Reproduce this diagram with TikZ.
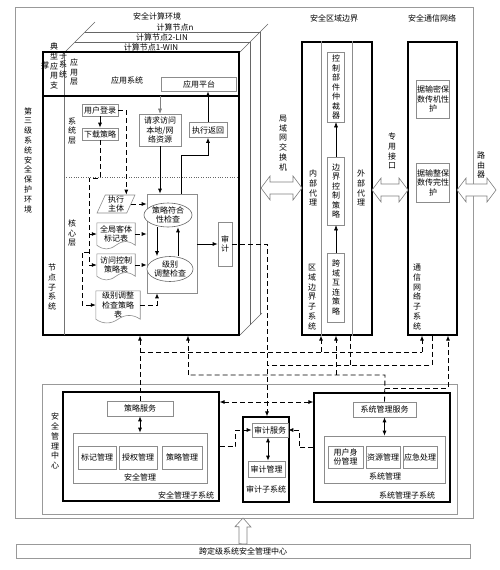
\documentclass[tikz,border=0pt]{standalone}
\usepackage{fontspec}
\setmainfont{Noto Sans CJK SC}
\usetikzlibrary{arrows.meta,positioning,shapes.geometric}

% hollow two-headed link: x1, x2, y
\newcommand{\hollowlink}[3]{%
  \draw[hollowline] (#1,#3) -- ({#1+9},{#3-12}) -- ({#1+9},{#3-6}) -- ({#2-9},{#3-6})
    -- ({#2-9},{#3-12}) -- (#2,#3) -- ({#2-9},{#3+12}) -- ({#2-9},{#3+6})
    -- ({#1+9},{#3+6}) -- ({#1+9},{#3+12}) -- cycle;}

\begin{document}
\begin{tikzpicture}[x=1pt, y=-1pt,
  every node/.style={font=\fontsize{8}{9.5}\selectfont, inner sep=0.5pt},
  vlab/.style={align=center, font=\fontsize{8}{9.8}\selectfont},
  gbox/.style={draw=black!45, line width=0.6pt, align=center, inner sep=0.5pt},
  tbox/.style={draw=black, line width=1.2pt},
  frame/.style={draw=black!40, line width=0.6pt},
  dsh/.style={line width=0.9pt, dash pattern=on 5pt off 3pt},
  arr/.style={-{Latex[length=5pt,width=4pt]}, line width=0.8pt},
  darr/.style={{Latex[length=5pt,width=4pt]}-{Latex[length=5pt,width=4pt]}, line width=0.8pt},
  hollowline/.style={draw=black!50, line width=0.6pt, fill=white},
  docbox/.style={align=center, inner sep=0.5pt},
  docline/.style={draw=black!45, line width=0.6pt}
]
\useasboundingbox (0,0) rectangle (500,570);

% outer frames
\draw[frame] (15,7) rectangle (473,518);
\draw[frame] (42,384) rectangle (457,514);
\node[vlab] (envtxt) at (28,160) {第\\三\\级\\系\\统\\安\\全\\保\\护\\环\\境};
\node (cenv) at (157,16) {安全计算环境};
\node (benv) at (334,18) {安全区域边界};
\node (nenv) at (432,18) {安全通信网络};

% compute node stack
\draw[black!60] (65,52) -- (95,22) (240,52) -- (268,24) (240,335) -- (262,313);
\draw[black!60] (75,42) -- (250,42) -- (250,325);
\draw[black!60] (85,32) -- (260,32) -- (260,315);
\node (cnn) at (175,27) {计算节点n};
\node (cn2) at (162,37) {计算节点2-LIN};
\node (cn1) at (151,47) {计算节点1-WIN};

\node[tbox, minimum width=196pt, minimum height=283pt] (node1) at (141,193.5) {};
\draw[black!55] (64,52) -- (64,335);
\draw[line width=1.2pt] (43,96) -- (239,96);
\draw[black!60, dotted] (64,177) -- (239,177);

\node[vlab] (tya) at (54,66) {典\\型\\应\\用\\支};
\node (tyb) at (45,65) {撑};
\node[vlab] (tyc) at (63,65) {子\\系\\统};
\node[vlab] (applay) at (74,72) {应\\用\\层};
\node (appsys) at (127,80) {应用系统};
\node[gbox, minimum width=75pt, minimum height=14pt] (apppf) at (199,84) {应用平台};

% system layer
\node[vlab] (syslay) at (72,131) {系\\统\\层};
\node[gbox, minimum width=36pt, minimum height=12pt] (login) at (100,110) {用户登录};
\node[gbox, minimum width=36pt, minimum height=12pt] (dlpol) at (100,134) {下载策略};
\node[gbox, minimum width=42pt, minimum height=32pt] (req) at (160,130) {请求访问\\本地/网\\络资源};
\node[gbox, minimum width=38pt, minimum height=15pt] (ret) at (208,130) {执行返回};

% core layer
\node[vlab] (corelay) at (72,233) {核\\心\\层};
\node[vlab] (nodesub) at (52,287) {节\\点\\子\\系\\统};
\node[trapezium, trapezium left angle=70, trapezium right angle=110, trapezium stretches=true,
  draw=black!45, line width=0.6pt, minimum width=38pt, minimum height=18pt,
  align=center, inner sep=0pt] (actor) at (116,204) {执行\\主体};
\node[docbox, minimum width=38pt, minimum height=22pt] (gobj) at (116,234) {全局客体\\标记表};
\node[docbox, minimum width=38pt, minimum height=22pt] (acl) at (116,265) {访问控制\\策略表};
\node[docbox, minimum width=44pt, minimum height=28pt] (lvl) at (118,305) {级别调整\\检查策略\\表};
\foreach \d in {gobj,acl,lvl}
  \draw[docline] (\d.south west) -- (\d.north west) -- (\d.north east) -- (\d.south east)
    .. controls +(-7pt,5pt) and +(7pt,5pt) .. (\d.south)
    .. controls +(-7pt,-5pt) and +(7pt,-5pt) .. (\d.south west);

\node[gbox, minimum width=50pt, minimum height=99pt] (chk) at (172,243.5) {};
\node[ellipse, draw=black!60, line width=0.6pt, inner sep=0pt, align=center,
  minimum width=48pt, minimum height=24pt, fill=white] (comp) at (168,215) {策略符合\\性检查};
\node[ellipse, draw=black!60, line width=0.6pt, inner sep=0pt, align=center,
  minimum width=46pt, minimum height=25pt, fill=white] (lvchk) at (170,269) {级别\\调整检查};
\node[gbox, minimum width=14pt, minimum height=44pt] (aud) at (225,244) {审\\计};

% boundary
\node[tbox, minimum width=70pt, minimum height=293pt] (bnd) at (337,188.5) {};
\draw[black!45] ([xshift=20pt]bnd.north west) -- ([xshift=20pt]bnd.south west)
  ([xshift=-20pt]bnd.north east) -- ([xshift=-20pt]bnd.south east);
\node[gbox, minimum width=17pt, minimum height=70pt] (arb) at (336,87) {控\\制\\部\\件\\仲\\裁\\器};
\node[gbox, minimum width=17pt, minimum height=68pt] (bpol) at (336,191) {边\\界\\控\\制\\策\\略};
\node[gbox, minimum width=17pt, minimum height=69pt] (xpol) at (336,287.5) {跨\\域\\互\\连\\策\\略};
\node[vlab] (inproxy) at (313,188) {内\\部\\代\\理};
\node[vlab] (exproxy) at (361,188) {外\\部\\代\\理};
\node[vlab] (bndsub) at (312,297) {区\\域\\边\\界\\子\\系\\统};

% comm network
\node[tbox, minimum width=49pt, minimum height=293pt] (comm) at (432.5,188.5) {};
\node[gbox, minimum width=30pt, minimum height=38pt] (conf) at (433,99) {据输密保\\数传机性\\护};
\node[gbox, minimum width=30pt, minimum height=39pt] (integ) at (433,182.5) {据输整保\\数传完性\\护};
\node[vlab] (commsub) at (417,297) {通\\信\\网\\络\\子\\系\\统};

% hollow links
\hollowlink{261}{302}{188}
\node[vlab] (lanl) at (283,143) {局\\域\\网\\交\\换\\机};
\hollowlink{372}{408}{190}
\node[vlab] (dedil) at (392,151) {专\\用\\接\\口};
\hollowlink{457}{496}{190}
\node[vlab] (rtrl) at (481,165) {路\\由\\器};

% management centre
\node[vlab] (smc) at (55,441) {安\\全\\管\\理\\中\\心};
\node[tbox, minimum width=156pt, minimum height=109pt] (secsub) at (141,446.5) {};
\node[gbox, minimum width=66pt, minimum height=15pt] (ps) at (140,408.5) {策略服务};
\node[gbox, minimum width=134pt, minimum height=50pt] (secm) at (140,458) {};
\node[gbox, minimum width=38pt, minimum height=23pt] (lbm) at (97,457.5) {标记管理};
\node[gbox, minimum width=38pt, minimum height=23pt] (aum) at (138,457.5) {授权管理};
\node[gbox, minimum width=40pt, minimum height=23pt] (plm) at (182,457.5) {策略管理};
\node (secml) at (140,477) {安全管理};
\node (secsubl) at (186,495) {安全管理子系统};

\node[tbox, minimum width=46pt, minimum height=85pt] (audsub) at (266,459.5) {};
\node[gbox, minimum width=36pt, minimum height=14pt] (ads) at (270,430) {审计服务};
\node[gbox, minimum width=37pt, minimum height=16pt] (adm) at (266.5,469) {审计管理};
\node (audsubl) at (266,489) {审计子系统};

\node[tbox, minimum width=136pt, minimum height=109pt] (syssub) at (382,447.5) {};
\node[gbox, minimum width=63pt, minimum height=15pt] (sms) at (384.5,409.5) {系统管理服务};
\node[gbox, minimum width=121pt, minimum height=47pt] (sysm) at (384.5,459.5) {};
\node[gbox, minimum width=35pt, minimum height=22pt] (uid) at (345.5,457) {用户身\\份管理};
\node[gbox, minimum width=34pt, minimum height=22pt] (resm) at (383,457) {资源管理};
\node[gbox, minimum width=34pt, minimum height=22pt] (emg) at (420,457) {应急处理};
\node (sysml) at (385,476) {系统管理};
\node (syssubl) at (407,495) {系统管理子系统};

% cross-level centre
\node[frame, minimum width=454pt, minimum height=14pt] (xmc) at (243,551) {跨定级系统安全管理中心};
\draw[hollowline] (xmc.north) ++(-4,0) -- ++(0,-17) -- ++(-4,0) -- (243,518)
  -- (251,527) -- (247,527) -- (247,544) -- cycle;

% connectors inside node
\draw[arr] (login) -- (dlpol);
\draw[dsh, arr] (login.east) -- ++(8,0) coordinate (lg1) -- (lg1 |- actor.north);
\coordinate (dl1) at (89,178);
\draw[dsh] (dlpol.south) |- (dl1) -- (dl1 |- acl.west);
\draw[dsh, arr] (dl1 |- gobj.west) -- (gobj.west);
\draw[dsh, arr] (dl1 |- acl.west) -- (acl.west);
\draw[dsh, arr] (89,252) -- (82,252) |- (lvl.west);
\draw[dsh, arr] (actor.east) -- (actor.east -| chk.west);
\draw[dsh, arr] (gobj.east) -- (gobj.east -| chk.west);
\draw[dsh, arr] (acl.east) -- (acl.east -| chk.west);
\draw[dsh, arr] (lvl.east) -| ([xshift=-15pt]chk.south);
\draw[black!50, arr, line width=0.5pt] (req.north |- node1.north) ++(0,45) -- (req.north);
\draw[arr] (req.south) -- (req.south |- chk.north);
\draw[arr] ([xshift=9pt]chk.north) |- (208,155) -- (ret.south);
\draw[arr, line width=1pt] (ret.north) -- (ret.north |- apppf.south);
\draw[arr] ([xshift=-11pt]comp.south) -- ([xshift=-13pt]lvchk.north);
\draw[arr] ([xshift=8pt]lvchk.north) -- ([xshift=10pt]comp.south);
\draw[arr] (chk.east |- aud.west) -- (aud.west);
\draw[arr, line width=0.5pt] (bpol) -- (arb);
\draw[arr, line width=0.5pt] (xpol) -- (bpol);

% management connectors
\draw[darr] (ps.south) -- (ps.south |- secm.north);
\draw[darr] ([xshift=-2pt]ads.south) -- ([xshift=-2pt]ads.south |- adm.north);
\draw[darr] (sms.south) -- (sms.south |- sysm.north);
\coordinate (y402) at (0,402);
\draw[dsh, darr] (secsub.east |- y402) -- (syssub.west |- y402);
\draw[dsh, arr] (syssub.west) -- ++(-14,0) |- (ads.east);
\draw[dsh, arr] (secsub.east) -- ++(16,0) |- (ads.west);

% policy bus
\coordinate (pA) at (140,352);
\coordinate (pB) at (422,352);
\coordinate (pC) at (321,352);
\draw[dsh, arr] (ps.north) -- (ps.north |- node1.south);
\draw[dsh] (pA) -- (pB);
\draw[dsh, arr] (pB) -- (pB |- comm.south);
\draw[dsh, arr] (pC) -- (pC |- bnd.south);

% audit bus
\coordinate (aA) at (267,244);
\coordinate (aB) at (432,365);
\coordinate (aC) at (350,365);
\draw[dsh, arr] (aud.east) -- (aA) -- (aA |- audsub.north);
\draw[dsh] (aB |- comm.south) -- (aB) -- (267,365);
\draw[dsh] (aC |- bnd.south) -- (aC);

% system management bus
\coordinate (sA) at (385,375);
\coordinate (sB) at (385,388);
\coordinate (sC) at (448,388);
\coordinate (sD) at (188,375);
\coordinate (sE) at (336,375);
\draw[dsh] (sms.north) -- (sA) -- (sD);
\draw[dsh, arr] (sD) -- (sD |- node1.south);
\draw[dsh, arr] (sE) -- (sE |- bnd.south);
\draw[dsh, arr] (sB) -- (sC) -- (sC |- comm.south);
\end{tikzpicture}
\end{document}
